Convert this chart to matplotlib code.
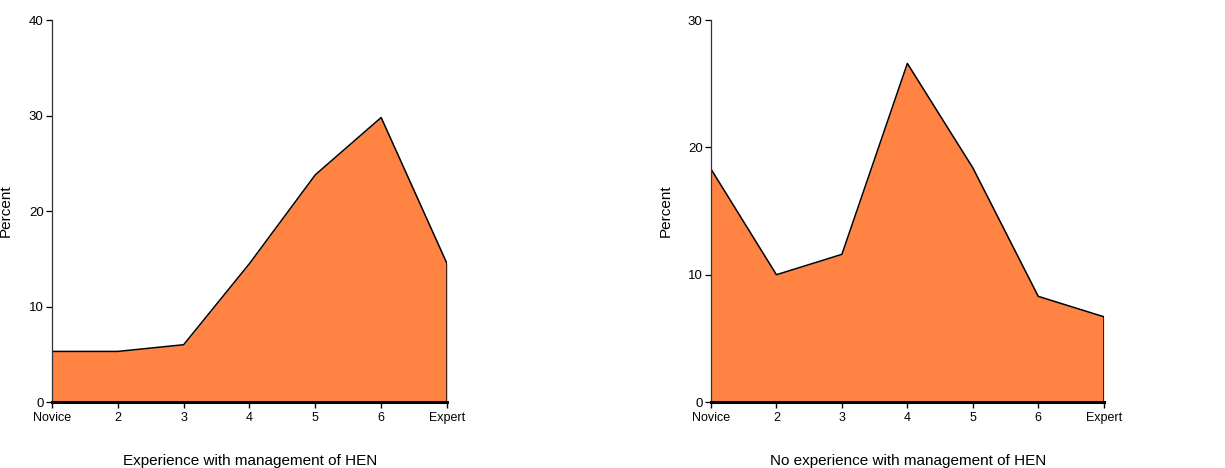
import matplotlib.pyplot as plt

plt.rcParams['font.family'] = ['Liberation Sans', 'DejaVu Sans']

# experience levels on the x axis
levels = ['Novice', '2', '3', '4', '5', '6', 'Expert']

# percent of respondents per level
pct_experienced = [5.3, 5.3, 6.0, 14.5, 23.8, 29.8, 14.5]
pct_no_experience = [18.3, 10.0, 11.6, 26.6, 18.4, 8.3, 6.7]

fill_color = '#FF8343'

fig = plt.figure(figsize=(12.25, 4.68), dpi=100)
ax1 = fig.add_axes([0.0424, 0.141, 0.3225, 0.816])
ax2 = fig.add_axes([0.5804, 0.141, 0.3206, 0.816])


def area_panel(ax, values, ymax, yticks):
    x = list(range(len(levels)))
    ax.fill_between(x, 0, values, color=fill_color, linewidth=0)
    ax.plot(x, values, color='black', lw=1.1)
    # closing edge on the right side
    ax.plot([x[-1], x[-1]], [0, values[-1]], color='black', lw=1.1)
    ax.set_xlim(0, len(levels) - 1)
    ax.set_ylim(0, ymax)
    ax.set_xticks(x)
    ax.set_xticklabels(levels, fontsize=9)
    ax.set_yticks(yticks)
    ax.set_yticklabels([str(t) for t in yticks], fontsize=9.5)
    ax.spines['top'].set_visible(False)
    ax.spines['right'].set_visible(False)
    ax.spines['left'].set_color('#333333')
    ax.spines['left'].set_linewidth(0.9)
    ax.spines['bottom'].set_linewidth(2.2)
    ax.spines['bottom'].set_zorder(5)
    ax.tick_params(axis='y', length=4, width=0.9, pad=2)
    ax.tick_params(axis='x', length=4, width=1.0, pad=3)
    ax.set_ylabel('Percent', fontsize=11)
    ax.yaxis.set_label_coords(-0.098, 0.5)


area_panel(ax1, pct_experienced, 40, [0, 10, 20, 30, 40])
area_panel(ax2, pct_no_experience, 30, [0, 10, 20, 30])

fig.text(250 / 1225, 0.014, 'Experience with management of HEN',
         ha='center', va='center', fontsize=11)
fig.text(908 / 1225, 0.014, 'No experience with management of HEN',
         ha='center', va='center', fontsize=11)

fig.savefig('out.png', dpi=100)
